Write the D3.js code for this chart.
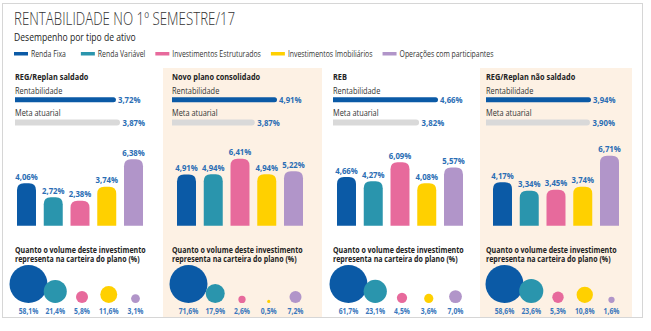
<!DOCTYPE html>
<html>
<head>
<meta charset="utf-8">
<script src="https://cdn.jsdelivr.net/npm/d3@7"></script>
<style>
  body { margin: 0; background: #fff; }
  svg { display: block; font-family: "Open Sans", "Noto Sans", sans-serif; }
  .title { font-size: 18px; font-weight: 300; fill: #333; }
  .subtitle { font-size: 10px; fill: #222; }
  .legend { font-size: 8.4px; fill: #333; }
  .plan { font-size: 9px; font-weight: 700; fill: #222; }
  .small { font-size: 9px; fill: #333; }
  .value { font-size: 9.5px; font-weight: 700; fill: #2a6db4; }
  .heading { font-size: 8.6px; font-weight: 700; fill: #222; }
  .share { font-size: 8.3px; font-weight: 700; fill: #3a78bd; }
</style>
</head>
<body>
<svg id="chart" width="651" height="331"></svg>
<script>
const plans = ["REG/Replan saldado", "Novo plano consolidado", "REB", "REG/Replan não saldado"];
const assetTypes = ["Renda Fixa", "Renda Variável", "Investimentos Estruturados", "Investimentos Imobiliários", "Operações com participantes"];
const assetColors = ["#0b5aa6", "#2a95ad", "#e76a9c", "#ffd000", "#b195c9"];

const rentabilidade = [3.72, 4.91, 4.66, 3.94];
const metaAtuarial = [3.87, 3.87, 3.82, 3.90];

// rentabilidade de cada tipo de ativo, por plano
const retornoPorAtivo = [
  [4.06, 2.72, 2.38, 3.74, 6.38],
  [4.91, 4.94, 6.41, 4.94, 5.22],
  [4.66, 4.27, 6.09, 4.08, 5.57],
  [4.17, 3.34, 3.45, 3.74, 6.71]
];

// peso de cada tipo de ativo na carteira do plano (%)
const pesoNaCarteira = [
  [58.1, 21.4, 5.8, 11.6, 3.1],
  [71.6, 17.9, 2.6, 0.5, 7.2],
  [61.7, 23.1, 4.5, 3.6, 7.0],
  [58.6, 23.6, 5.3, 10.8, 1.6]
];

const ptBR = d3.formatLocale({ decimal: ",", thousands: ".", grouping: [3], currency: ["R$", ""] });
const pct2 = v => ptBR.format(".2f")(v) + "%";
const pct1 = v => ptBR.format(".1f")(v) + "%";

const SX = 0.82;  // condensed look for the text

const svg = d3.select("#chart");

function label(sel, x, y, str, cls, anchor, sx) {
  return sel.append("text")
    .attr("class", cls)
    .attr("text-anchor", anchor || "start")
    .attr("transform", `translate(${x},${y}) scale(${sx || SX},1)`)
    .text(str);
}

// panel backgrounds + frame
const panelLeft = [4, 163, 322, 480];
const panelWidth = [159, 159, 158, 152];
svg.selectAll("rect.panel")
  .data(plans)
  .join("rect")
  .attr("class", "panel")
  .attr("x", (d, i) => panelLeft[i])
  .attr("y", 68)
  .attr("width", (d, i) => panelWidth[i])
  .attr("height", 249)
  .attr("fill", (d, i) => i % 2 ? "#fdf1e4" : "#fff");

svg.append("rect")
  .attr("x", 2.5).attr("y", 3.5)
  .attr("width", 640).attr("height", 314)
  .attr("fill", "none")
  .attr("stroke", "#d6d6d6");

label(svg, 14, 25, "RENTABILIDADE NO 1º SEMESTRE/17", "title", "start", 0.74);
label(svg, 14, 41, "Desempenho por tipo de ativo", "subtitle", "start", 0.86);

// legend
let lx = 14;
assetTypes.forEach((name, i) => {
  svg.append("rect")
    .attr("x", lx).attr("y", 52)
    .attr("width", 14).attr("height", 3.5)
    .attr("fill", assetColors[i]);
  const t = label(svg, lx + 17, 56.5, name, "legend");
  lx += 17 + t.node().getComputedTextLength() * SX + (i === 0 ? 15 : 10);
});

const contentX = [15, 172, 333, 486];
const barsX = [17, 177, 337, 493];

const yBar = d3.scaleLinear()
  .domain([0, d3.max(retornoPorAtivo.flat())])
  .range([0, 70]);
const baseline = 225.7;

function hbar(g, x, y, w, h, color) {
  const r = h / 2;
  g.append("path")
    .attr("d", `M${x},${y}H${x + w - r}A${r},${r} 0 0 1 ${x + w - r},${y + h}H${x}Z`)
    .attr("fill", color);
}

function topRounded(x, y, w, h, r) {
  r = Math.min(r, h, w / 2);
  return `M${x},${y + h}V${y + r}Q${x},${y} ${x + r},${y}H${x + w - r}Q${x + w},${y} ${x + w},${y + r}V${y + h}Z`;
}

plans.forEach((plan, p) => {
  const g = svg.append("g");
  const x0 = contentX[p];

  label(g, x0, 80, plan, "plan");

  // rentabilidade x meta atuarial
  const xh = d3.scaleLinear()
    .domain([0, Math.max(rentabilidade[p], metaAtuarial[p])])
    .range([0, 105]);

  label(g, x0, 93.5, "Rentabilidade", "small");
  hbar(g, x0, 97.3, xh(rentabilidade[p]), 5, "#0b5aa6");
  label(g, x0 + xh(rentabilidade[p]) + 2, 103, pct2(rentabilidade[p]), "value");

  label(g, x0, 115.5, "Meta atuarial", "small");
  hbar(g, x0, 119.5, xh(metaAtuarial[p]), 6, "#d9d9d9");
  label(g, x0 + xh(metaAtuarial[p]) + 2.5, 125.5, pct2(metaAtuarial[p]), "value");

  // retorno por tipo de ativo
  const xb = d3.scaleBand()
    .domain(d3.range(assetTypes.length))
    .range([barsX[p], barsX[p] + 126])
    .paddingInner(0.29);

  g.selectAll("path.bar")
    .data(retornoPorAtivo[p])
    .join("path")
    .attr("class", "bar")
    .attr("d", (d, i) => topRounded(xb(i), baseline - yBar(d), xb.bandwidth(), yBar(d), 7))
    .attr("fill", (d, i) => assetColors[i]);

  retornoPorAtivo[p].forEach((d, i) => {
    label(g, xb(i) + xb.bandwidth() / 2, baseline - yBar(d) - 3.5, pct2(d), "value", "middle");
  });

  // peso na carteira
  label(g, x0, 252.5, "Quanto o volume deste investimento", "heading");
  label(g, x0, 262, "representa na carteira do plano (%)", "heading");

  const rb = d3.scaleSqrt()
    .domain([0, d3.max(pesoNaCarteira[p])])
    .range([0, 19]);
  const bottom = 303;

  g.selectAll("circle")
    .data(pesoNaCarteira[p])
    .join("circle")
    .attr("cx", (d, i) => xb(i) + xb.bandwidth() / 2 + 2)
    .attr("cy", d => bottom - rb(d))
    .attr("r", d => rb(d))
    .attr("fill", (d, i) => assetColors[i]);

  pesoNaCarteira[p].forEach((d, i) => {
    label(g, xb(i) + xb.bandwidth() / 2 + 2, 313.5, pct1(d), "share", "middle");
  });
});
</script>
</body>
</html>
